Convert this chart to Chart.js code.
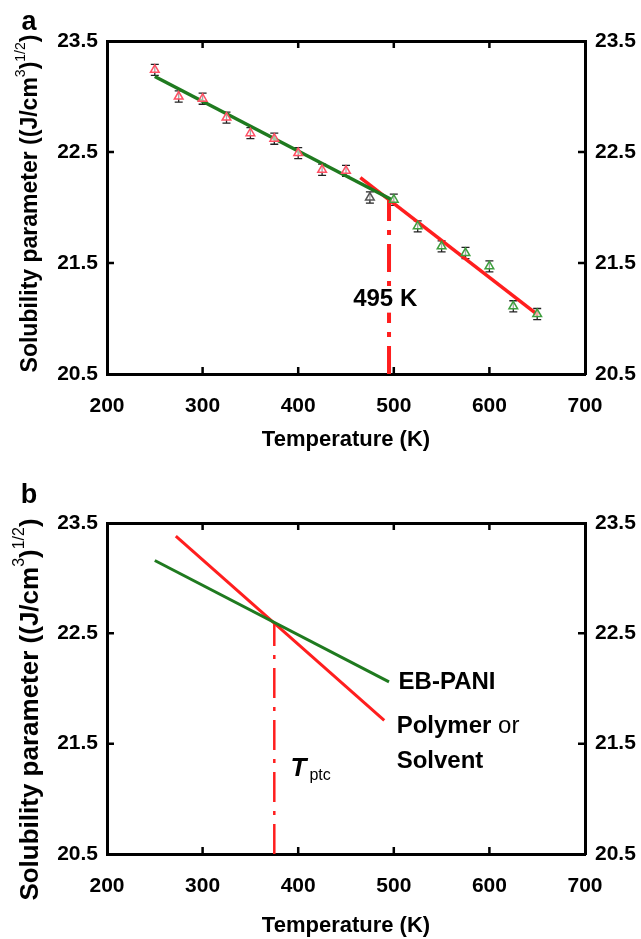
<!DOCTYPE html>
<html>
<head>
<meta charset="utf-8">
<script src="https://cdn.jsdelivr.net/npm/chart.js@4.4.1/dist/chart.umd.min.js"></script>
<style>
  html, body { margin: 0; padding: 0; background: #fff; }
  #wrap { position: relative; width: 641px; height: 939px; overflow: hidden; }
  canvas { position: absolute; left: 0; }
  #chartA { top: 0; }
  #chartB { top: 470px; }
</style>
</head>
<body>
<div id="wrap">
  <canvas id="chartA" width="641" height="470"></canvas>
  <canvas id="chartB" width="641" height="469"></canvas>
</div>
<script>
// (a) measured solubility parameter vs temperature
const temps = [250, 275, 300, 325, 350, 375, 400, 425, 450, 475, 500, 525, 550, 575, 600, 625, 650];
const solubility = [23.24, 23.00, 22.98, 22.81, 22.67, 22.62, 22.49, 22.34, 22.33, 22.09, 22.07, 21.83, 21.65, 21.59, 21.47, 21.11, 21.04];
const solubilityErr = [0.05, 0.05, 0.05, 0.05, 0.05, 0.05, 0.05, 0.05, 0.05, 0.05, 0.05, 0.05, 0.05, 0.05, 0.05, 0.05, 0.05];

// linear fits below / above the transition
const lowFitT = [250, 498];
const lowFitD = [23.18, 22.07];
const highFitT = [465, 651];
const highFitD = [22.27, 21.03];
const transitionT = [495, 495];
const transitionD = [20.5, 22.07];

// (b) schematic: EB-PANI against a polymer or solvent
const ebPaniT = [250, 495];
const ebPaniD = [23.16, 22.06];
const solventT = [272, 490];
const solventD = [23.38, 21.71];
const tptcT = [375, 375];
const tptcD = [20.5, 22.60];

const tempTicks = [200, 300, 400, 500, 600, 700];
const deltaTicks = [20.5, 21.5, 22.5, 23.5];

const FONT = "'Liberation Sans', Arial, sans-serif";
const RED = '#ff1e1e';
const GREEN = '#1f7a1f';

const pts = (xs, ys) => xs.map((x, i) => ({ x: x, y: ys[i] }));

function markerColor(t) {
  if (t < 475) return '#ff4f63';
  if (t === 475) return '#555555';
  return '#3f9f3f';
}

function buildScales(bottomH, titlePad) {
  const tickFont = { family: FONT, size: 21, weight: 'bold' };
  const titleFont = { family: FONT, size: 22, weight: 'bold' };
  const edge = { display: true, width: 3, color: '#000' };
  const noGrid = { drawOnChartArea: false, drawTicks: false };
  const setTicks = vals => scale => { scale.ticks = vals.map(v => ({ value: v })); };
  const fmt = v => Number(v).toFixed(1);
  return {
    x: {
      type: 'linear', position: 'bottom', min: 200, max: 700,
      afterBuildTicks: setTicks(tempTicks),
      ticks: { font: tickFont, color: '#000', padding: 20, maxRotation: 0 },
      grid: noGrid, border: edge,
      title: { display: true, text: 'Temperature (K)', font: titleFont, color: '#000', padding: { top: 0, bottom: titlePad } },
      afterFit: s => { s.height = bottomH; }
    },
    x2: {
      type: 'linear', position: 'top', min: 200, max: 700,
      ticks: { display: false }, grid: noGrid, border: edge,
      afterFit: s => { s.height = 0; }
    },
    y: {
      type: 'linear', position: 'left', min: 20.5, max: 23.5,
      afterBuildTicks: setTicks(deltaTicks),
      ticks: { font: tickFont, color: '#000', padding: 9, callback: fmt },
      grid: noGrid, border: edge,
      afterFit: s => { s.width = 107; }
    },
    y2: {
      type: 'linear', position: 'right', min: 20.5, max: 23.5,
      afterBuildTicks: setTicks(deltaTicks),
      ticks: { font: tickFont, color: '#000', padding: 10, callback: fmt },
      grid: noGrid, border: edge,
      afterFit: s => { s.width = 56; }
    }
  };
}

// short tick marks pointing into the plot on all four sides
const innerTicks = {
  id: 'innerTicks',
  afterDraw(chart) {
    const { ctx, chartArea: a, scales } = chart;
    const len = 7;
    ctx.save();
    ctx.strokeStyle = '#000';
    ctx.lineWidth = 2.5;
    ctx.beginPath();
    scales.x.ticks.forEach(t => {
      if (t.value <= scales.x.min || t.value >= scales.x.max) return;
      const px = scales.x.getPixelForValue(t.value);
      ctx.moveTo(px, a.bottom); ctx.lineTo(px, a.bottom - len);
      ctx.moveTo(px, a.top); ctx.lineTo(px, a.top + len);
    });
    scales.y.ticks.forEach(t => {
      if (t.value <= scales.y.min || t.value >= scales.y.max) return;
      const py = scales.y.getPixelForValue(t.value);
      ctx.moveTo(a.left, py); ctx.lineTo(a.left + len, py);
      ctx.moveTo(a.right, py); ctx.lineTo(a.right - len, py);
    });
    ctx.stroke();
    ctx.restore();
  }
};

const errorBars = {
  id: 'errorBars',
  beforeDatasetsDraw(chart) {
    const { ctx, scales: { x, y } } = chart;
    chart.data.datasets.forEach(ds => {
      if (!ds.errors) return;
      ctx.save();
      ctx.strokeStyle = '#222';
      ctx.lineWidth = 1.3;
      ds.data.forEach((p, i) => {
        const px = x.getPixelForValue(p.x);
        const top = y.getPixelForValue(p.y + ds.errors[i]);
        const bot = y.getPixelForValue(p.y - ds.errors[i]);
        ctx.beginPath();
        ctx.moveTo(px, top); ctx.lineTo(px, bot);
        ctx.moveTo(px - 4, top); ctx.lineTo(px + 4, top);
        ctx.moveTo(px - 4, bot); ctx.lineTo(px + 4, bot);
        ctx.stroke();
      });
      ctx.restore();
    });
  }
};

// rotated y title with superscripts
function drawYTitle(ctx, cx, cy, size) {
  const parts = [
    { t: 'Solubility parameter ((J/cm', sup: false },
    { t: '3', sup: true },
    { t: ')', sup: false },
    { t: '1/2', sup: true },
    { t: ')', sup: false }
  ];
  const big = 'bold ' + size + 'px ' + FONT;
  const small = Math.round(size * 0.62) + 'px ' + FONT;
  let total = 0;
  parts.forEach(p => { ctx.font = p.sup ? small : big; p.w = ctx.measureText(p.t).width; total += p.w; });
  ctx.save();
  ctx.translate(cx, cy);
  ctx.rotate(-Math.PI / 2);
  ctx.textBaseline = 'middle';
  ctx.textAlign = 'left';
  ctx.fillStyle = '#000';
  let x = -total / 2;
  parts.forEach(p => {
    ctx.font = p.sup ? small : big;
    ctx.fillText(p.t, x, p.sup ? -size * 0.42 : 0);
    x += p.w;
  });
  ctx.restore();
}

function panelLetter(ctx, letter, x, y) {
  ctx.save();
  ctx.font = 'bold 27px ' + FONT;
  ctx.fillStyle = '#000';
  ctx.textAlign = 'center';
  ctx.textBaseline = 'middle';
  ctx.fillText(letter, x, y);
  ctx.restore();
}

const notesA = {
  id: 'notesA',
  afterDraw(chart) {
    const { ctx, chartArea: a, scales: { x, y } } = chart;
    drawYTitle(ctx, 31, (a.top + a.bottom) / 2 - 4, 23);
    panelLetter(ctx, 'a', 29, 23);
    ctx.save();
    ctx.font = 'bold 24px ' + FONT;
    const label = '495 K';
    const w = ctx.measureText(label).width;
    const cx = x.getPixelForValue(491);
    const cy = y.getPixelForValue(21.17);
    ctx.fillStyle = '#fff';
    ctx.fillRect(cx - w / 2 - 2, cy - 13, w + 4, 26);
    ctx.fillStyle = '#000';
    ctx.textAlign = 'center';
    ctx.textBaseline = 'middle';
    ctx.fillText(label, cx, cy);
    ctx.restore();
  }
};

const notesB = {
  id: 'notesB',
  afterDraw(chart) {
    const { ctx, chartArea: a, scales: { x, y } } = chart;
    drawYTitle(ctx, 31, (a.top + a.bottom) / 2 + 21, 26);
    panelLetter(ctx, 'b', 29, 26);
    ctx.save();
    ctx.fillStyle = '#000';
    ctx.textBaseline = 'middle';
    ctx.textAlign = 'left';
    const bold = 'bold 24px ' + FONT;
    ctx.font = bold;
    ctx.fillText('EB-PANI', x.getPixelForValue(505), y.getPixelForValue(22.06));
    const px = x.getPixelForValue(503);
    ctx.fillText('Polymer', px, y.getPixelForValue(21.66));
    const pw = ctx.measureText('Polymer ').width;
    ctx.font = '24px ' + FONT;
    ctx.fillText('or', px + pw, y.getPixelForValue(21.66));
    ctx.font = bold;
    ctx.fillText('Solvent', px, y.getPixelForValue(21.34));
    const tx = x.getPixelForValue(392);
    const ty = y.getPixelForValue(21.27);
    ctx.font = 'italic bold 26px ' + FONT;
    ctx.fillText('T', tx, ty);
    const tw = ctx.measureText('T').width;
    ctx.font = '16px ' + FONT;
    ctx.fillText('ptc', tx + tw + 3, ty + 7);
    ctx.restore();
  }
};

function lineSet(xs, ys, color, width, dash) {
  return {
    data: pts(xs, ys), showLine: true, pointRadius: 0, borderColor: color,
    borderWidth: width, borderDash: dash || [], fill: false, tension: 0
  };
}

function baseOptions(topPad, bottomH, titlePad) {
  return {
    responsive: false, animation: false, devicePixelRatio: 1,
    layout: { padding: { top: topPad, left: 0, right: 0, bottom: 0 } },
    plugins: { legend: { display: false }, tooltip: { enabled: false } },
    scales: buildScales(bottomH, titlePad)
  };
}

new Chart(document.getElementById('chartA'), {
  type: 'scatter',
  data: {
    datasets: [
      {
        data: pts(temps, solubility), errors: solubilityErr, showLine: false,
        pointStyle: 'triangle', pointRadius: 5, pointBorderWidth: 1.5,
        pointBackgroundColor: 'rgba(255,255,255,0.6)',
        pointBorderColor: temps.map(markerColor)
      },
      lineSet(lowFitT, lowFitD, GREEN, 3.5),
      lineSet(highFitT, highFitD, RED, 3.5),
      lineSet(transitionT, transitionD, RED, 4, [28, 9, 5, 9])
    ]
  },
  options: baseOptions(41, 96, 17),
  plugins: [errorBars, innerTicks, notesA]
});

new Chart(document.getElementById('chartB'), {
  type: 'scatter',
  data: {
    datasets: [
      lineSet(ebPaniT, ebPaniD, GREEN, 3),
      lineSet(solventT, solventD, RED, 3),
      lineSet(tptcT, tptcD, RED, 2.5, [30, 9, 4, 9])
    ]
  },
  options: baseOptions(53, 85, 0),
  plugins: [innerTicks, notesB]
});
</script>
</body>
</html>
